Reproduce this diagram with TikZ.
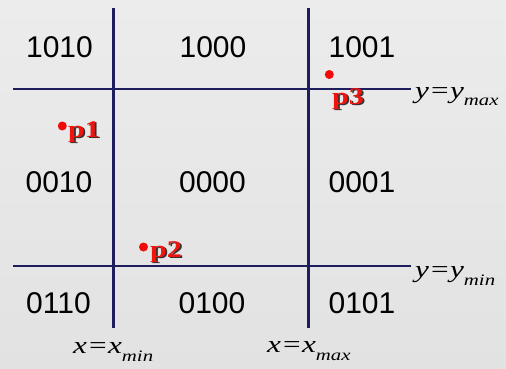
\documentclass[tikz,border=0pt]{standalone}
\usepackage{graphicx}
\usepackage{fontspec}
\setmainfont{Liberation Serif}
\newfontfamily\digitfont{Liberation Sans}
\definecolor{gridline}{RGB}{30,30,95}
\definecolor{ptred}{RGB}{240,20,15}
\definecolor{dotred}{RGB}{240,10,10}
\definecolor{bgtop}{RGB}{236,236,236}
\definecolor{bgmid}{RGB}{243,243,243}
\definecolor{bgbot}{RGB}{226,226,226}
\newcommand\shadowed[1]{\scalebox{1.25}[1]{\makebox[0pt][l]{\hspace{1.4pt}\raisebox{-1.4pt}{\color{black!80}#1}}{\color{ptred}#1}}}
\newcommand\eqlab[3]{\scalebox{1.3}[1]{#1=#2\raisebox{-8pt}{\fontsize{16}{16}\selectfont #3}}}
\begin{document}
\begin{tikzpicture}[x=1pt,y=-1pt,
  code/.style={font=\digitfont\fontsize{30}{30}\selectfont, inner sep=0pt, anchor=base, text=black},
  eqlabel/.style={font=\itshape\fontsize{24}{24}\selectfont, inner sep=0pt, anchor=base west, text=black},
  ptlabel/.style={font=\bfseries\fontsize{24}{24}\selectfont, inner sep=0pt, anchor=base west},
  ptdot/.style={circle, fill=dotred, inner sep=0pt, minimum size=9pt},
  gridln/.style={draw=gridline, line width=2.2pt}]
\useasboundingbox (0,0) rectangle (506,369);
\shade[top color=bgtop, middle color=bgmid, bottom color=bgbot] (0,0) rectangle (506,369);
% grid lines
\coordinate (xminTop) at (113.5,8);
\coordinate (xminBot) at (113.5,328);
\coordinate (xmaxTop) at (308.5,8);
\coordinate (xmaxBot) at (308.5,328);
\coordinate (ymaxL) at (13,89);
\coordinate (ymaxR) at (411,89);
\coordinate (yminL) at (13,266);
\coordinate (yminR) at (411,266);
\draw[gridln] (xminTop) -- (xminBot);
\draw[gridln] (xmaxTop) -- (xmaxBot);
\draw[gridln] (ymaxL) -- (ymaxR);
\draw[gridln] (yminL) -- (yminR);
% region codes
\node[code] (c1010) at (59.5,58) {1010};
\node[code] (c1000) at (213,58) {1000};
\node[code] (c1001) at (362,58) {1001};
\node[code] (c0010) at (59,192) {0010};
\node[code] (c0000) at (212.5,192) {0000};
\node[code] (c0001) at (362,192) {0001};
\node[code] (c0110) at (58.5,313) {0110};
\node[code] (c0100) at (212,313) {0100};
\node[code] (c0101) at (362,313) {0101};
% boundary labels
\node[eqlabel] (lymax) at (415,98) {\eqlab{y}{y}{max}};
\node[eqlabel] (lymin) at (415,277) {\eqlab{y}{y}{min}};
\node[eqlabel] (lxmin) at (73,353) {\eqlab{x}{x}{min}};
\node[eqlabel] (lxmax) at (267,352) {\eqlab{x}{x}{max}};
% points
\node[ptdot] (p1dot) at (62.3,126) {};
\node[ptdot] (p2dot) at (143.5,247) {};
\node[ptdot] (p3dot) at (329.3,74.5) {};
\node[ptlabel] (p1) at (68,137) {\shadowed{p1}};
\node[ptlabel] (p2) at (150,257) {\shadowed{p2}};
\node[ptlabel] (p3) at (332,104) {\shadowed{p3}};
\end{tikzpicture}
\end{document}
